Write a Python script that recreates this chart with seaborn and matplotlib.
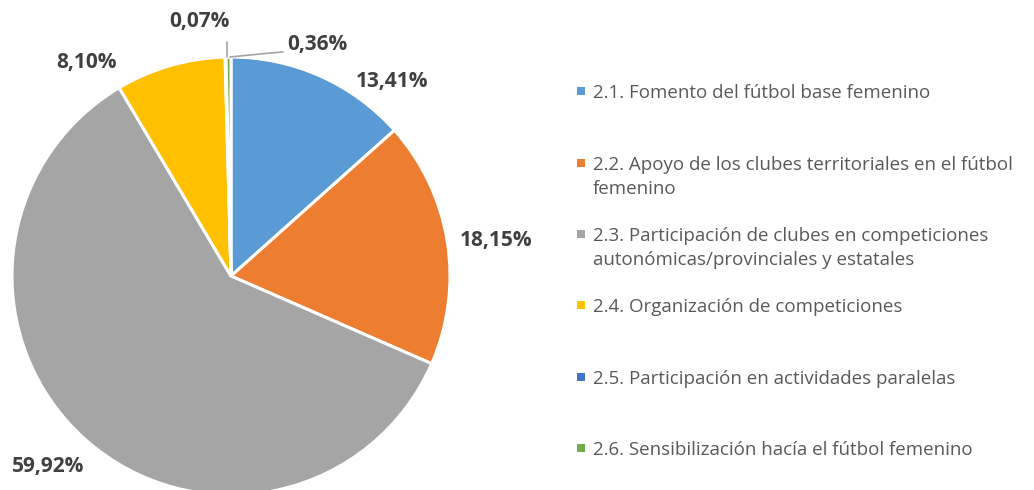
import matplotlib
matplotlib.use("Agg")
import matplotlib.pyplot as plt
import seaborn as sns
from matplotlib.patches import Rectangle

sns.set_theme(style="white")
plt.rcParams['font.family'] = ['Open Sans', 'DejaVu Sans']

categories = [
    "2.1. Fomento del fútbol base femenino",
    "2.2. Apoyo de los clubes territoriales en el fútbol\nfemenino",
    "2.3. Participación de clubes en competiciones\nautonómicas/provinciales y estatales",
    "2.4. Organización de competiciones",
    "2.5. Participación en actividades paralelas",
    "2.6. Sensibilización hacía el fútbol femenino",
]
values = [13.41, 18.15, 59.92, 8.10, 0.07, 0.36]
value_labels = ["13,41%", "18,15%", "59,92%", "8,10%", "0,07%", "0,36%"]
colors = ["#5B9BD5", "#ED7D31", "#A5A5A5", "#FFC000", "#4472C4", "#70AD47"]

# layout (data units, radius = 1)
label_pos = [(0.735, 0.886), (1.210, 0.164), (-0.836, -0.868),
             (-0.662, 0.977), (-0.142, 1.160), (0.393, 1.055)]

W, H = 1034, 490
cx, cy, R = 231, 276, 219
fig = plt.figure(figsize=(W / 100, H / 100), dpi=100)
ax = fig.add_axes([0, 0, 1, 1])
ax.pie(values, colors=colors, startangle=90, counterclock=False,
       wedgeprops=dict(edgecolor="white", linewidth=2.2))
ax.set_xlim(-cx / R, (W - cx) / R)
ax.set_ylim(-(H - cy) / R, cy / R)
ax.set_aspect("equal")
ax.axis("off")

for (x, y), t in zip(label_pos, value_labels):
    ax.text(x, y, t, ha="center", va="center", fontsize=15,
            fontweight="bold", color="#404040")

# leader lines
ax.plot([-0.018, -0.018], [1.0, 1.068], color="#A5A5A5", lw=1.2)
ax.plot([-0.005, 0.178, 0.237], [1.0, 1.018, 1.023], color="#A5A5A5", lw=1.2)

# legend
first_y = [91, 163, 234, 305, 377, 448]
for yy, lab, c in zip(first_y, categories, colors):
    fig.patches.append(Rectangle((577 / W, 1 - (yy + 4) / H), 8 / W, 8 / H,
                                 transform=fig.transFigure, facecolor=c,
                                 edgecolor="none"))
    fig.text(593 / W, 1 - (yy - 7) / H, lab, ha="left", va="top",
             fontsize=13.5, color="#595959", linespacing=1.42)

fig.savefig("out.png", dpi=100)
